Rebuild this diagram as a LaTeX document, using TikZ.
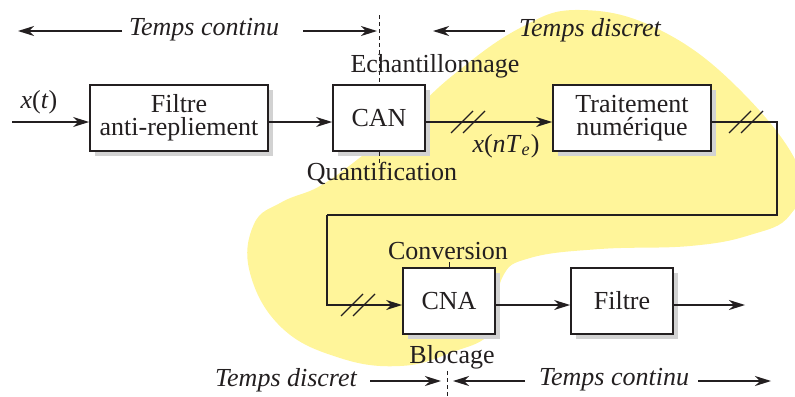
\documentclass[tikz,border=0pt]{standalone}
\usepackage{fontspec}
\setmainfont{Liberation Serif}
\usetikzlibrary{calc, arrows.meta, shadows}
\definecolor{encre}{HTML}{231F20}
\definecolor{jaune}{HTML}{FFF59A}
\definecolor{ombre}{HTML}{D2D2D2}
\newcommand{\barres}[1]{%
  \draw[line width=0.6pt] ($(#1)+(-17,11)$) -- ++(22,-22);
  \draw[line width=0.6pt] ($(#1)+(-5,11)$) -- ++(22,-22);}

\begin{document}
\begin{tikzpicture}[x=0.5pt, y=-0.5pt, color=encre,
  font=\fontsize{13}{11.5}\selectfont,
  bloc/.style={draw, line width=0.9pt, fill=white, minimum height=33pt, align=center,
    drop shadow={shadow xshift=2.5pt, shadow yshift=-2.5pt, fill=ombre, opacity=1}},
  fleche/.style={line width=0.7pt, -{Stealth[length=8pt, width=5pt, inset=2.5pt]}},
  tiret/.style={line width=0.5pt, dash pattern=on 2pt off 1.5pt},
  temps/.style={font=\fontsize{13}{11.5}\selectfont\itshape}]
  \useasboundingbox (0,0) rectangle (795,396);
  \begin{scope}
    \clip (0,0) rectangle (795,396);
    \fill[jaune] plot[smooth cycle, tension=0.7] coordinates {
      (580,10) (660,30) (740,90) (800,170) (790,215) (750,235) (690,246)
      (600,249) (530,258) (502,278) (493,330) (450,353) (400,366) (340,358)
      (282,328) (250,273) (254,224) (282,202) (320,186) (362,156) (402,123)
      (452,76) (520,28)};
  \end{scope}

  \node[bloc, minimum width=89pt] (filtre) at (179,118) {Filtre\\anti-repliement};
  \node[bloc, minimum width=46pt] (can) at (379,118) {CAN};
  \node[bloc, minimum width=79pt] (trait) at (632,118) {Traitement\\numérique};
  \node[bloc, minimum width=46pt] (cna) at (449,301) {CNA};
  \node[bloc, minimum width=51pt] (filtre2) at (622,301) {Filtre};

  \node (ech) at (435,66) {Echantillonnage};
  \node (quant) at (382,173) {Quantification};
  \node (conv) at (448,251) {Conversion};
  \node (bloq) at (452,357) {Blocage};
  \node (xt) at (39,102) {\textit{x}(\textit{t})};
  \node (xn) at (506,146) {\textit{x}(\textit{nT}\textsubscript{\textit{e}})};

  \node[temps] (tc1) at (204,30) {Temps continu};
  \node[temps] (td1) at (590,30) {Temps discret};
  \node[temps] (td2) at (286,380) {Temps discret};
  \node[temps] (tc2) at (614,380) {Temps continu};

  \coordinate (e) at (12,122);
  \coordinate (s) at (745,305);
  \coordinate (c1) at (777,215);
  \coordinate (c2) at (327,215);
  \draw[fleche] (e) -- ([yshift=-2pt]filtre.west);
  \draw[fleche] ([yshift=-2pt]filtre.east) -- ([yshift=-2pt]can.west);
  \draw[fleche] ([yshift=-2pt]can.east) -- ([yshift=-2pt]trait.west);
  \draw[line width=0.7pt] ([yshift=-2pt]trait.east) -| (c1) -- (c2);
  \draw[fleche] (c2) |- ([yshift=-2pt]cna.west);
  \draw[fleche] ([yshift=-2pt]cna.east) -- ([yshift=-2pt]filtre2.west);
  \draw[fleche] ([yshift=-2pt]filtre2.east) -- (s);
  \barres{468,122}
  \barres{746,122}
  \barres{358,305}

  \coordinate (h1) at (379,15);
  \coordinate (h2) at (379,163);
  \draw[tiret] (h1) -- (can.north);
  \draw[tiret] (can.south) -- (h2);
  \coordinate (h3) at (449,262);
  \draw[line width=0.5pt] (cna.north) -- (h3);
  \coordinate (h4) at (447,371);
  \coordinate (h5) at (447,396);
  \draw[tiret] (h4) -- (h5);

  \coordinate (a1) at (122,31);
  \coordinate (a2) at (18,31);
  \coordinate (a3) at (303,31);
  \coordinate (a4) at (377,31);
  \coordinate (a5) at (505,31);
  \coordinate (a6) at (433,31);
  \draw[fleche] (a1) -- (a2);
  \draw[fleche] (a3) -- (a4);
  \draw[fleche] (a5) -- (a6);
  \coordinate (b1) at (370,381);
  \coordinate (b2) at (441,381);
  \coordinate (b3) at (525,381);
  \coordinate (b4) at (453,381);
  \coordinate (b5) at (698,381);
  \coordinate (b6) at (771,381);
  \draw[fleche] (b1) -- (b2);
  \draw[fleche] (b3) -- (b4);
  \draw[fleche] (b5) -- (b6);
\end{tikzpicture}
\end{document}
